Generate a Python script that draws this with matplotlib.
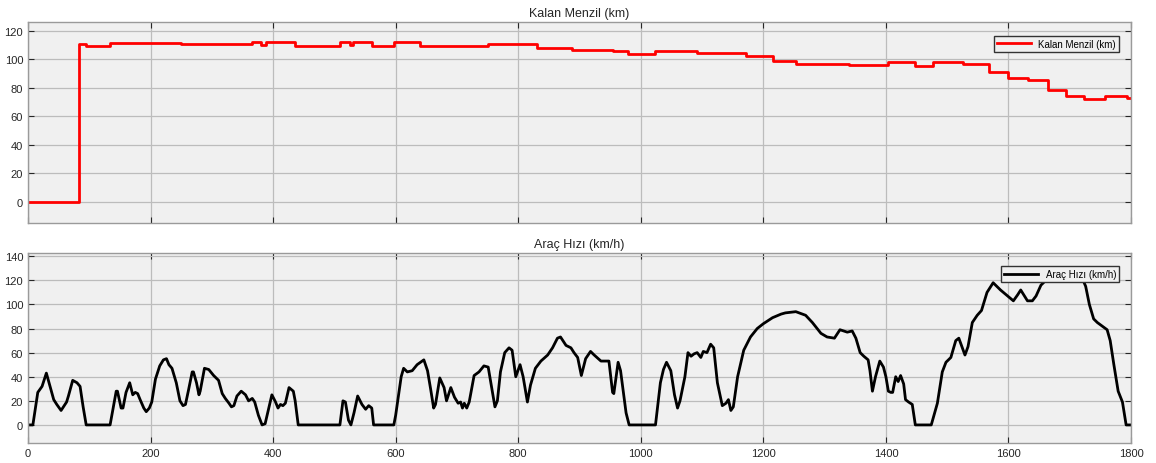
import numpy as np
import matplotlib
matplotlib.use("Agg")
import matplotlib.pyplot as plt

plt.rcParams['font.family'] = ['Liberation Sans', 'DejaVu Sans']

# remaining range: step change times (s) and level after each change (km)
range_t = [0, 84, 95, 134, 249, 366, 381, 389, 436, 509, 525, 531, 562, 597,
           639, 750, 830, 887, 954, 979, 1024, 1092, 1172, 1215, 1253, 1294,
           1340, 1403, 1447, 1477, 1526, 1569, 1599, 1632, 1665, 1694, 1723,
           1757, 1793, 1800]
range_km = [0, 111, 109.3, 111.6, 111, 112.6, 110, 112.6, 109.6, 112.6, 110,
            112.6, 109.6, 112.6, 109.6, 110.5, 107.9, 106.5, 105.8, 103.5,
            106.1, 104.7, 102.1, 99.1, 96.7, 96.5, 95.8, 98.1, 95.5, 98.1,
            96.7, 91.1, 86.9, 85.3, 78.3, 74.6, 72.3, 74.4, 72.7, 72.7]

# vehicle speed trace (s, km/h)
speed_t = [0, 8, 16, 23, 30, 36, 42, 47, 54, 63, 66, 73, 80, 85, 90, 95,
           134, 140, 144, 146, 152, 155, 160, 166, 171, 175, 179, 183, 189,
           193, 198, 202, 208, 215, 221, 226, 230, 235, 242, 248, 253, 257,
           262, 268, 270, 275, 279, 281, 288, 295, 303, 311, 317, 322, 328,
           332, 336, 341, 348, 355, 360, 366, 370, 376, 382, 387, 393, 398,
           404, 408, 412, 416, 420, 426, 433, 436, 441,
           509, 514, 518, 523, 527, 532, 538, 545, 551, 556, 561, 564,
           597, 600, 609, 613, 619, 627, 635, 646, 652, 657, 662, 665, 672,
           679, 683, 690, 696, 702, 706, 709, 712, 716, 720, 728, 736, 744,
           751, 757, 762, 766, 771, 778, 785, 790, 796, 803, 808, 815, 820,
           828, 837, 848, 856, 864, 869, 878, 886, 891, 897, 903, 910, 918,
           924, 935, 948, 954, 956, 963, 967, 976, 981,
           1024, 1032, 1037, 1042, 1049, 1055, 1060, 1064, 1072, 1077, 1082,
           1087, 1092, 1098, 1102, 1108, 1114, 1119, 1125, 1133, 1139, 1143,
           1147, 1151, 1158, 1168, 1179, 1190, 1200, 1215, 1229, 1236, 1253,
           1269, 1280, 1294, 1304, 1316, 1325, 1337, 1345, 1351, 1358, 1364,
           1371, 1374, 1378, 1383, 1390, 1396, 1400, 1404, 1408, 1411, 1416,
           1420, 1424, 1429, 1432, 1437, 1443, 1448,
           1474, 1484, 1492, 1498, 1506, 1514, 1519, 1529, 1534, 1541, 1549,
           1556, 1565, 1575, 1587, 1601, 1608, 1615, 1620, 1626, 1631, 1639,
           1645, 1653, 1661, 1675, 1690, 1705, 1721, 1726, 1732, 1739, 1745,
           1753, 1761, 1766, 1772, 1779, 1786, 1792, 1800]
speed_kmh = [0, 0, 27, 32, 43, 32, 21, 17, 12, 19, 24, 37, 35, 32, 15, 0,
             0, 17, 28, 28, 14, 14, 27, 35, 25, 27, 26, 21, 14,
             11, 14, 19, 38, 49, 54, 55, 50, 47, 35, 20, 16, 17,
             29, 44, 44, 35, 25, 28, 47, 46, 41, 37, 26, 22, 18,
             15, 16, 24, 28, 25, 20, 22, 19, 8, 0, 1, 14, 25,
             19, 14, 17, 16, 18, 31, 28, 20, 0,
             0, 20, 19, 4, 0, 10, 24, 17, 13, 16, 14, 0,
             0, 8, 40, 47, 44, 45, 50, 54, 45, 30, 14, 17, 39,
             31, 20, 31, 23, 18, 19, 14, 18, 14, 19, 41, 44, 49,
             48, 30, 15, 20, 44, 60, 64, 62, 40, 50, 40, 19, 33,
             47, 53, 58, 64, 72, 73, 66, 64, 60, 56, 41, 55, 61,
             58, 53, 53, 27, 26, 52, 45, 10, 0,
             0, 35, 46, 52, 45, 25, 14, 20, 40, 60, 57,
             59, 60, 56, 61, 60, 67, 64, 35, 16, 18, 21,
             12, 15, 40, 62, 73, 80, 84, 89, 92, 93, 94,
             91, 85, 76, 73, 72, 79, 77, 78, 72, 60, 57,
             54, 45, 28, 40, 53, 48, 40, 28, 27, 27, 40,
             36, 41, 34, 21, 19, 17, 0,
             0, 18, 44, 52, 56, 70, 72, 58, 65, 85, 91,
             95, 110, 118, 112, 106, 103, 108, 112, 107, 103, 103,
             107, 116, 120, 126, 129, 127, 121, 115, 100, 88, 85,
             82, 79, 70, 50, 28, 19, 0, 0]

x_ticks = np.arange(0, 1801, 200)


def style_axes(ax, yticks):
    ax.set_facecolor('#f0f0f0')
    ax.set_xlim(0, 1800)
    ax.set_xticks(x_ticks)
    ax.set_yticks(yticks)
    ax.grid(True, color='#bcbcbc', linewidth=0.9)
    ax.set_axisbelow(True)
    ax.tick_params(direction='in', top=True, right=True, length=4,
                   labelsize=8, colors='#262626', width=0.8)
    for s in ax.spines.values():
        s.set_color('#9a9a9a')
        s.set_linewidth(1.0)


fig = plt.figure(figsize=(11.56, 4.64), dpi=100)
ax1 = fig.add_axes([0.0242, 0.5172, 0.9542, 0.4332])
ax2 = fig.add_axes([0.0242, 0.0431, 0.9542, 0.4095])

ax1.plot(range_t, range_km, drawstyle='steps-post', color='#ff0000',
         lw=2.0, label='Kalan Menzil (km)')
style_axes(ax1, np.arange(0, 121, 20))
ax1.set_ylim(-15, 126.3)
ax1.set_xticklabels([])
ax1.set_title('Kalan Menzil (km)', fontsize=9, color='#262626', pad=4)
ax1.legend(loc='upper right', fontsize=7, facecolor='#f0f0f0',
           edgecolor='#333333', framealpha=1, fancybox=False,
           handlelength=3.5, borderpad=0.3, bbox_to_anchor=(0.9935, 0.955))

ax2.plot(speed_t, speed_kmh, color='black', lw=2.0, label='Araç Hızı (km/h)')
style_axes(ax2, np.arange(0, 141, 20))
ax2.set_ylim(-15, 142.7)
ax2.set_title('Araç Hızı (km/h)', fontsize=9, color='#262626', pad=4)
ax2.legend(loc='upper right', fontsize=7, facecolor='#f0f0f0',
           edgecolor='#333333', framealpha=1, fancybox=False,
           handlelength=3.5, borderpad=0.3, bbox_to_anchor=(0.9935, 0.955))

fig.savefig('out.png', dpi=100)
